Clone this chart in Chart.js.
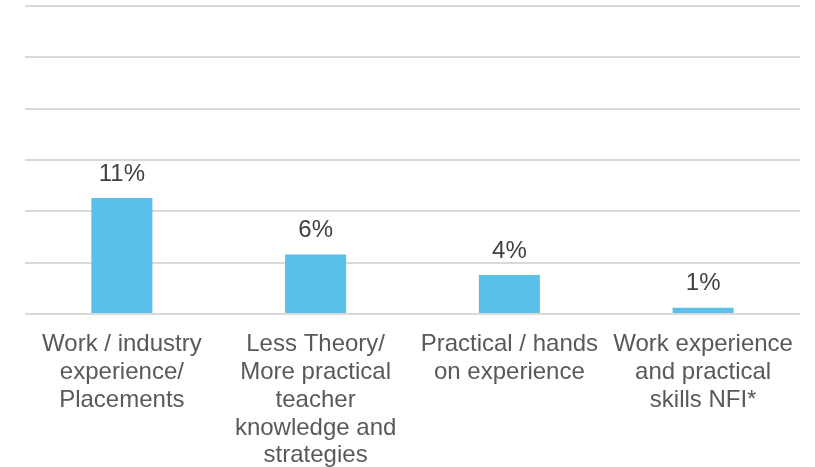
<!DOCTYPE html>
<html>
<head>
<meta charset="utf-8">
<script src="https://cdn.jsdelivr.net/npm/chart.js@4/dist/chart.umd.min.js"></script>
<style>
    html, body { margin: 0; padding: 0; background: #fff; }
    #wrap { width: 815px; height: 467px; }
</style>
</head>
<body>
<div id="wrap"><canvas id="chart"></canvas></div>
<script>
const categories = [
    ['Work / industry', 'experience/', 'Placements'],
    ['Less Theory/', 'More practical', 'teacher', 'knowledge and', 'strategies'],
    ['Practical / hands', 'on experience'],
    ['Work experience', 'and practical', 'skills NFI*'],
];
const values = [11.3, 5.8, 3.8, 0.6];
const yTicks = [0, 5, 10, 15, 20, 25, 30];

const BAR_COLOR = '#5bc0e7';
const FONT = '"Liberation Sans", Arial, sans-serif';

// etiquetas de valor acima das barras
const valueLabels = {
    id: 'valueLabels',
    afterDatasetsDraw(chart) {
        const ctx = chart.ctx;
        const meta = chart.getDatasetMeta(0);
        ctx.save();
        ctx.font = '24px ' + FONT;
        ctx.fillStyle = '#404040';
        ctx.textAlign = 'center';
        ctx.textBaseline = 'middle';
        meta.data.forEach((bar, i) => {
            ctx.fillText(Math.round(values[i]) + '%', bar.x, bar.y - 24);
        });
        ctx.restore();
    },
};

new Chart(document.getElementById('chart'), {
    type: 'bar',
    data: {
        labels: categories,
        datasets: [{
            data: values,
            backgroundColor: BAR_COLOR,
            barPercentage: 0.315,
            categoryPercentage: 1,
        }],
    },
    options: {
        responsive: true,
        maintainAspectRatio: false,
        animation: false,
        layout: { padding: { left: 25, right: 15, top: 6, bottom: 0 } },
        plugins: { legend: { display: false }, tooltip: { enabled: false } },
        scales: {
            x: {
                grid: { display: false, drawTicks: false },
                border: { display: false },
                ticks: {
                    color: '#595959',
                    font: { family: FONT, size: 24, lineHeight: 1.156 },
                    padding: 17,
                    maxRotation: 0,
                    autoSkip: false,
                },
                afterFit(scale) { scale.height = 153; },
            },
            y: {
                min: 0,
                max: 30,
                afterBuildTicks(scale) { scale.ticks = yTicks.map(v => ({ value: v })); },
                ticks: { display: false },
                grid: { color: '#d9d9d9', lineWidth: 2, drawTicks: false },
                border: { display: false },
            },
        },
    },
    plugins: [valueLabels],
});
</script>
</body>
</html>
